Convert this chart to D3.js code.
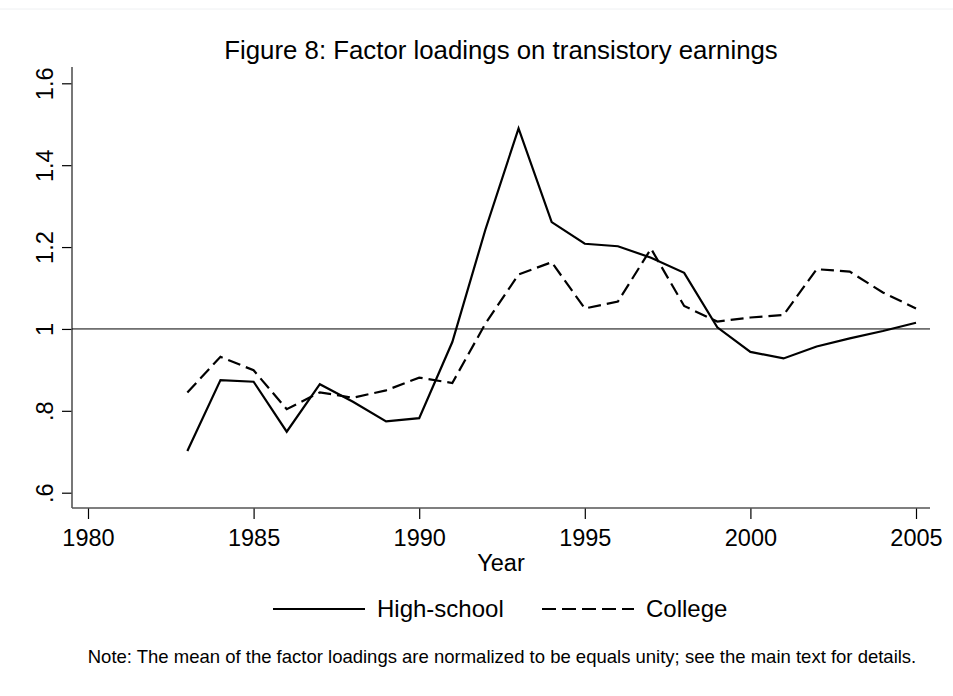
<!DOCTYPE html>
<html>
<head>
<meta charset="utf-8">
<script src="https://cdn.jsdelivr.net/npm/d3@7"></script>
<style>
  body { margin: 0; background: #fff; }
  text { font-family: "Liberation Sans", Arial, sans-serif; fill: #000; }
</style>
</head>
<body>
<div class="plot"></div>
<script>
// data
var years = [1983, 1984, 1985, 1986, 1987, 1988, 1989, 1990, 1991, 1992, 1993, 1994,
             1995, 1996, 1997, 1998, 1999, 2000, 2001, 2002, 2003, 2004, 2005];
var high_school = [0.702, 0.875, 0.871, 0.749, 0.865, 0.822, 0.774, 0.782, 0.968, 1.243, 1.49, 1.261,
                   1.208, 1.202, 1.174, 1.137, 1.004, 0.944, 0.928, 0.957, 0.977, 0.995, 1.015];
var college = [0.845, 0.932, 0.899, 0.804, 0.845, 0.832, 0.85, 0.881, 0.868, 1.013, 1.133, 1.163,
               1.05, 1.067, 1.196, 1.056, 1.018, 1.028, 1.034, 1.146, 1.14, 1.089, 1.05];
var x_ticks = [1980, 1985, 1990, 1995, 2000, 2005];
var y_ticks = [0.6, 0.8, 1, 1.2, 1.4, 1.6];
var y_tick_labels = [".6", ".8", "1", "1.2", "1.4", "1.6"];

var width = 953, height = 696;
var plot = {left: 72, right: 930, top: 67, bottom: 508};

var svg = d3.select(".plot")
    .append("svg")
    .attr("width", width)
    .attr("height", height);

// faint frame line at the top
svg.append("line")
  .attr("x1", 0).attr("x2", width)
  .attr("y1", 9).attr("y2", 9)
  .attr("stroke", "#eef0f2")
  .attr("stroke-width", 1);

var x = d3.scaleLinear()
  .domain([1980, 2005])
  .range([88, 916]);

var y = d3.scaleLinear()
  .domain([0.6, 1.6])
  .range([492.7, 83.3]);

// x-axis
var xAxis = svg.append("g")
  .attr("transform", "translate(0," + plot.bottom + ")")
  .call(d3.axisBottom(x).tickValues(x_ticks).tickFormat(d3.format("d")).tickSize(11).tickSizeOuter(0));
xAxis.select(".domain").remove();
xAxis.selectAll(".tick line").attr("stroke", "#000").attr("stroke-width", 1.2);
xAxis.selectAll(".tick text")
  .attr("y", 38)
  .attr("dy", 0)
  .style("font-size", "23.5px")
  .style("font-family", "'Liberation Sans', Arial, sans-serif");

// y-axis
var yAxis = svg.append("g")
  .attr("transform", "translate(" + plot.left + ",0)")
  .call(d3.axisLeft(y).tickValues(y_ticks).tickFormat(function(d, i) { return y_tick_labels[i]; }).tickSize(10).tickSizeOuter(0));
yAxis.select(".domain").remove();
yAxis.selectAll(".tick line").attr("stroke", "#000").attr("stroke-width", 1.2);
yAxis.selectAll(".tick text")
  .attr("x", 0).attr("y", 0).attr("dy", 0)
  .attr("text-anchor", "middle")
  .attr("transform", "translate(-19,0) rotate(-90)")
  .style("font-size", "23.5px")
  .style("font-family", "'Liberation Sans', Arial, sans-serif");

// axis lines
svg.append("line")
  .attr("x1", plot.left).attr("x2", plot.left)
  .attr("y1", plot.top).attr("y2", plot.bottom)
  .attr("stroke", "#555").attr("stroke-width", 1.6);
svg.append("line")
  .attr("x1", plot.left).attr("x2", plot.right)
  .attr("y1", plot.bottom).attr("y2", plot.bottom)
  .attr("stroke", "#555").attr("stroke-width", 1.6);

// reference line at 1
svg.append("line")
  .attr("x1", plot.left).attr("x2", plot.right)
  .attr("y1", y(1)).attr("y2", y(1))
  .attr("stroke", "#000").attr("stroke-width", 1);

var line = d3.line()
  .x(function(d) { return x(d[0]); })
  .y(function(d) { return y(d[1]); });

svg.append("path")
  .datum(years.map(function(yr, i) { return [yr, high_school[i]]; }))
  .attr("d", line)
  .attr("fill", "none")
  .attr("stroke", "#000")
  .attr("stroke-width", 2.2);

svg.append("path")
  .datum(years.map(function(yr, i) { return [yr, college[i]]; }))
  .attr("d", line)
  .attr("fill", "none")
  .attr("stroke", "#000")
  .attr("stroke-width", 2.2)
  .attr("stroke-dasharray", "13,6");

// title and axis title
svg.append("text")
  .attr("x", 501)
  .attr("y", 59)
  .attr("text-anchor", "middle")
  .style("font-size", "25.8px")
  .text("Figure 8: Factor loadings on transistory earnings");

svg.append("text")
  .attr("x", 501)
  .attr("y", 571)
  .attr("text-anchor", "middle")
  .style("font-size", "23.5px")
  .text("Year");

// legend
var legends = [
  {label: "High-school", dash: null, x: 273},
  {label: "College", dash: "14,6", x: 542}
];
var legend = svg.append("g").attr("class", "legend");
legend.selectAll("line")
  .data(legends)
  .enter()
  .append("line")
  .attr("x1", function(d) { return d.x; })
  .attr("x2", function(d) { return d.x + 92; })
  .attr("y1", 609).attr("y2", 609)
  .attr("stroke", "#000")
  .attr("stroke-width", 2.2)
  .attr("stroke-dasharray", function(d) { return d.dash; });
legend.selectAll("text")
  .data(legends)
  .enter()
  .append("text")
  .attr("x", function(d) { return d.x + 104; })
  .attr("y", 617)
  .style("font-size", "24px")
  .text(function(d) { return d.label; });

// note
svg.append("text")
  .attr("x", 502)
  .attr("y", 663)
  .attr("text-anchor", "middle")
  .style("font-size", "18.5px")
  .text("Note: The mean of the factor loadings are normalized to be equals unity; see the main text for details.");
</script>
</body>
</html>
